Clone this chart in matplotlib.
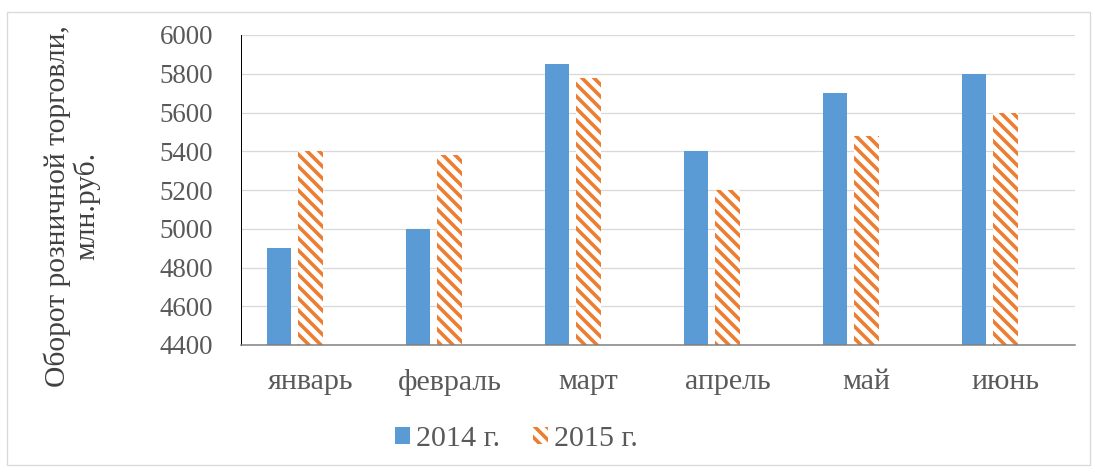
import matplotlib
matplotlib.use("Agg")
import matplotlib.pyplot as plt
import numpy as np
from matplotlib.patches import Rectangle, Patch

months = ["январь", "февраль", "март", "апрель", "май", "июнь"]
sales_2014 = [4900, 5000, 5850, 5400, 5700, 5800]
sales_2015 = [5400, 5380, 5780, 5200, 5480, 5600]
series_names = ["2014 г.", "2015 г."]

blue = "#5B9BD5"
orange = "#ED7D31"
grey_text = "#595959"

plt.rcParams["font.family"] = ["Liberation Serif", "DejaVu Serif"]
plt.rcParams["hatch.linewidth"] = 3.6

dpi = 72
fig = plt.figure(figsize=(1095 / dpi, 475 / dpi), dpi=dpi)
ax = fig.add_axes([241 / 1095, 1 - 345 / 475, (1075 - 241) / 1095, (345 - 35) / 475])

x = np.arange(len(months))
w = 0.173
step = 0.226
ax.bar(x - step, sales_2014, width=w, color=blue, zorder=3)
ax.bar(x, sales_2015, width=w, color="white", edgecolor=orange,
       hatch="\\\\", linewidth=0, zorder=3)

ax.set_ylim(4400, 6000)
ax.set_xlim(-0.5, 5.5)
ax.set_yticks(np.arange(4400, 6001, 200))
ax.set_xticks(x)
ax.set_xticklabels(months)
ax.tick_params(axis="both", length=0, colors=grey_text)
ax.tick_params(axis="x", pad=24, labelsize=30)
ax.tick_params(axis="y", pad=28, labelsize=27)
ax.grid(axis="y", color="#D9D9D9", linewidth=1.3, zorder=0)
ax.set_axisbelow(True)
for s in ["top", "right"]:
    ax.spines[s].set_visible(False)
ax.spines["left"].set_color("#000000")
ax.spines["left"].set_linewidth(1)
ax.spines["bottom"].set_color("#7F7F7F")
ax.spines["bottom"].set_linewidth(1.5)
ax.spines["bottom"].set_zorder(4)

fig.text(72 / 1095, 1 - 206 / 475, "Оборот розничной торговли,\nмлн.руб.",
         rotation=90, ha="center", va="center", fontsize=29.5,
         color="#404040", linespacing=1.08)

handles = [Patch(facecolor=blue, edgecolor=blue, linewidth=0),
           Patch(facecolor="white", edgecolor=orange, hatch="\\\\", linewidth=0)]
fig.legend(handles, series_names, loc="center", bbox_to_anchor=(516 / 1095, 1 - 439 / 475),
           ncol=2, frameon=False, fontsize=30, handlelength=0.5, handleheight=0.5,
           handletextpad=0.2, columnspacing=1.1, labelcolor=grey_text)

fig.patches.append(Rectangle((7 / 1095, 10 / 475), 1083 / 1095, 453 / 475,
                             transform=fig.transFigure, fill=False,
                             edgecolor="#D9D9D9", linewidth=1.3))

fig.savefig("out.png", dpi=dpi)
